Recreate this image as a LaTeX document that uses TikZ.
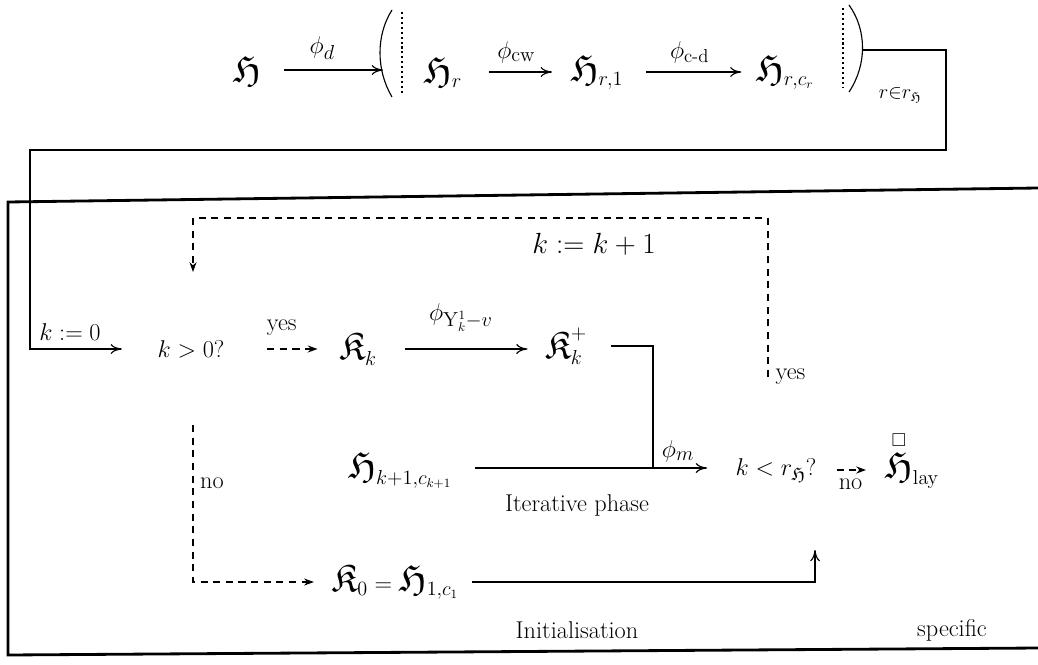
\documentclass[tikz,border=0pt]{standalone}
\usepackage{amsmath}
\usepackage{amssymb}
\usepackage{tikz}
\usetikzlibrary{calc,arrows.meta,positioning}

\newcommand{\fr}[1]{\text{\scalebox{1.45}{$\mathfrak{#1}$}}}

\begin{document}
\begin{tikzpicture}[x=0.025cm,y=-0.025cm,line width=0.8pt,
  every node/.style={font=\fontsize{19}{23}\selectfont,inner sep=0pt},
  lbl/.style={font=\LARGE},
  yn/.style={font=\LARGE},
  arr/.style={-{To[length=8pt,width=7pt]}},
  darr/.style={dash pattern=on 5pt off 4pt,-{Stealth[length=7pt,width=5pt]}}]
\useasboundingbox (0,0) rectangle (1038,664);
% top row
\node (H) at (247,70) {$\fr{H}$};
\coordinate (pl) at (383,70);
\draw[arr,shorten <=16pt] (H.east) -- node[above=7pt] {$\phi_d$} (H.east -| pl);
\draw (392,10) .. controls (376,35) and (376,70) .. (392,97);
\draw[dotted,line width=1.5pt] (402,12) -- (402,94);
\node (Hr) at (443,72) {$\fr{H}_r$};
\node (Hr1) at (597,72) {$\fr{H}_{r,1}$};
\node (Hrc) at (785,72) {$\fr{H}_{r,c_r}$};
\draw[arr,shorten <=19pt,shorten >=13pt] (Hr.east) -- node[above=6pt] {$\phi_{\mathrm{cw}}$} (Hr.east -| Hr1.west);
\draw[arr,shorten <=16pt,shorten >=10pt] (Hr1.east) -- node[above=6pt] {$\phi_{\text{c-d}}$} (Hr1.east -| Hrc.west);
\draw[dotted,line width=1.5pt] (843,8) -- (843,88);
\draw (849,5) .. controls (867,30) and (867,65) .. (849,92);
\node (rr) at (900,95) {$\scriptstyle r\in r_{\mathfrak{H}}$};
\coordinate (pr) at (863,50);

% main box
\draw[line width=2pt] (1038,188) -- (8,202) -- (8,655) -- (1038,648);

% inner flow
\node (kgt) at (191,349) {$k>0?$};
\node (Kk) at (358,349) {$\fr{K}_k$};
\node (Kkp) at (566,346) {$\fr{K}_k^+$};
\node (Hk1) at (400,470) {$\fr{H}_{k+1,c_{k+1}}$};
\node (klt) at (776,470) {$k<r_{\mathfrak{H}}?$};
\node (Hlay) at (912,460) {$\overset{\square}{\fr{H}}_{\mathrm{lay}}$};
\node (K0) at (395,582) {$\fr{K}_0=\fr{H}_{1,c_1}$};
\coordinate (jn) at (653,468);
\coordinate (ys) at (768,377);
\coordinate (lp) at (193,272);
\coordinate (ns) at (193,425);
\coordinate (up) at (815,550);

\draw[arr,shorten >=25pt] (pr) -| (946,150) -| (30,349) -- (kgt);
\node (k0) at (70,332) {$k:=0$};
\draw[darr,shorten <=30pt,shorten >=15pt] (kgt.east) -- node[yn,above=9pt] {yes} (kgt.east -| Kk.west);
\draw[arr,shorten <=20pt,shorten >=12pt] (Kk.east) -- node[above=12pt] {$\phi_{\mathrm{Y}_k^1-v}$} (Kk.east -| Kkp.west);
\draw[shorten <=17pt] (Kkp.east) -| (jn);
\draw[arr,shorten <=16pt,shorten >=20pt] (Hk1.east |- jn) -- (jn -| klt.west);
\node (phim) at (678,451) {$\phi_m$};
\draw[darr,shorten <=14pt,shorten >=13pt] (klt.east) -- node[yn,below=6pt] {no} (klt.east -| Hlay.west);
\draw[darr] (ys) |- (193,218) -- (lp);
\node[yn,right=5pt] (yes2) at (ys) {yes};
\node[font=\huge] (kk1) at (594,244) {$k:=k+1$};
\draw[darr,shorten >=12pt] (ns) |- (K0);
\node[yn] (no1) at (212,483) {no};
\draw[arr,shorten <=9pt] (K0.east) -| (up);
\node[lbl] (iter) at (577,505) {Iterative phase};
\node[lbl] (init) at (577,630) {Initialisation};
\node[lbl] (spec) at (952,630) {specific};
\end{tikzpicture}
\end{document}
